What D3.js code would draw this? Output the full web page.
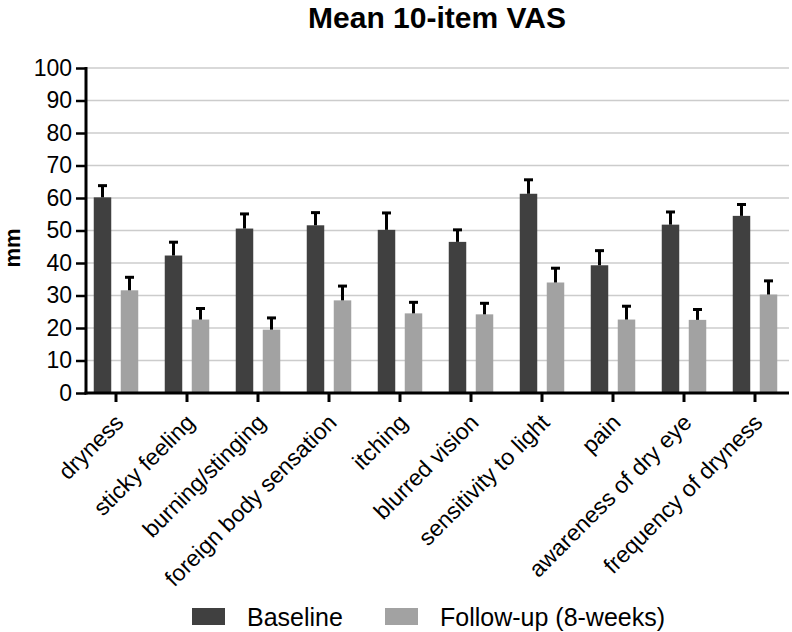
<!DOCTYPE html>
<html>
<head>
<meta charset="utf-8">
<script src="https://cdn.jsdelivr.net/npm/d3@7"></script>
<style>
  body { margin: 0; background: #fff; }
  svg { display: block; font-family: "Liberation Sans", Arial, sans-serif; }
</style>
</head>
<body>
<svg id="chart" width="792" height="632"></svg>
<script>
const categories = ["dryness", "sticky feeling", "burning/stinging", "foreign body sensation", "itching",
  "blurred vision", "sensitivity to light", "pain", "awareness of dry eye", "frequency of dryness"];
const seriesNames = ["Baseline", "Follow-up (8-weeks)"];
const baseline = [60.2, 42.3, 50.6, 51.6, 50.2, 46.5, 61.3, 39.3, 51.8, 54.5];
const baselineErr = [3.6, 4.1, 4.5, 3.9, 5.2, 3.7, 4.3, 4.5, 3.9, 3.5];
const followup = [31.6, 22.6, 19.5, 28.5, 24.5, 24.2, 34.0, 22.6, 22.5, 30.3];
const followupErr = [4.0, 3.4, 3.6, 4.4, 3.4, 3.4, 4.4, 4.1, 3.2, 4.2];
const yTicks = [0, 10, 20, 30, 40, 50, 60, 70, 80, 90, 100];
const colors = ["#404040", "#a2a2a2"];

const svg = d3.select("#chart");

const x = d3.scaleBand().domain(categories).range([80.5, 790.5]).padding(0);
const xSub = d3.scaleBand().domain([0, 1]).range([-22.25, 22.25]).paddingInner(0.352).paddingOuter(0);
const y = d3.scaleLinear().domain([0, 100]).range([393, 68]);

// gridlines
svg.append("g").selectAll("line").data(yTicks.filter(d => d > 0)).join("line")
  .attr("x1", 86).attr("x2", 789)
  .attr("y1", d => y(d)).attr("y2", d => y(d))
  .attr("stroke", "#cccccc").attr("stroke-width", 1.5);

// data
const data = categories.map((c, i) => ({
  cat: c,
  vals: [
    { s: 0, v: baseline[i], e: baselineErr[i] },
    { s: 1, v: followup[i], e: followupErr[i] }
  ]
}));

const groups = svg.append("g").selectAll("g").data(data).join("g")
  .attr("transform", d => `translate(${x(d.cat) + x.bandwidth() / 2},0)`);

groups.selectAll("rect").data(d => d.vals).join("rect")
  .attr("x", d => xSub(d.s))
  .attr("width", xSub.bandwidth())
  .attr("y", d => y(d.v))
  .attr("height", d => y(0) - y(d.v))
  .attr("fill", d => colors[d.s]);

// error bars (upper only)
groups.selectAll("line.err").data(d => d.vals).join("line")
  .attr("class", "err")
  .attr("x1", d => xSub(d.s) + xSub.bandwidth() / 2)
  .attr("x2", d => xSub(d.s) + xSub.bandwidth() / 2)
  .attr("y1", d => y(d.v))
  .attr("y2", d => y(d.v + d.e))
  .attr("stroke", "#000").attr("stroke-width", 3);
groups.selectAll("line.cap").data(d => d.vals).join("line")
  .attr("class", "cap")
  .attr("x1", d => xSub(d.s) + xSub.bandwidth() / 2 - 4.5)
  .attr("x2", d => xSub(d.s) + xSub.bandwidth() / 2 + 4.5)
  .attr("y1", d => y(d.v + d.e))
  .attr("y2", d => y(d.v + d.e))
  .attr("stroke", "#000").attr("stroke-width", 3);

// y axis
const yAxis = svg.append("g").attr("transform", "translate(86,0)")
  .call(d3.axisLeft(y).tickValues(yTicks).tickSize(10).tickPadding(4));
yAxis.select(".domain").remove();
yAxis.selectAll(".tick line").attr("stroke", "#000").attr("stroke-width", 2.5);
yAxis.selectAll(".tick text").attr("font-size", 23).attr("fill", "#000")
  .attr("font-family", "'Liberation Sans', Arial, sans-serif");
svg.append("line").attr("x1", 86).attr("x2", 86).attr("y1", y(100) - 1).attr("y2", y(0) + 1.5)
  .attr("stroke", "#000").attr("stroke-width", 3);

// x axis
const xAxis = svg.append("g").attr("transform", `translate(0,${y(0)})`)
  .call(d3.axisBottom(x).tickSize(9).tickFormat(""));
xAxis.select(".domain").remove();
xAxis.selectAll(".tick line").attr("stroke", "#000").attr("stroke-width", 3);
svg.append("line").attr("x1", 84.5).attr("x2", 789).attr("y1", y(0)).attr("y2", y(0))
  .attr("stroke", "#000").attr("stroke-width", 3);

svg.append("g").selectAll("text").data(categories).join("text")
  .attr("transform", d => `translate(${x(d) + x.bandwidth() / 2 + 9},${y(0) + 31}) rotate(-45)`)
  .attr("text-anchor", "end")
  .attr("font-size", 23)
  .attr("fill", "#000")
  .text(d => d);

// y label
svg.append("text")
  .attr("transform", "translate(20,248) rotate(-90)")
  .attr("text-anchor", "middle")
  .attr("font-size", 22).attr("font-weight", "bold")
  .text("mm");

// title
svg.append("text")
  .attr("x", 437).attr("y", 28)
  .attr("text-anchor", "middle")
  .attr("font-size", 30).attr("font-weight", "bold")
  .text("Mean 10-item VAS");

// legend
const legX = [192, 385];
const leg = svg.append("g").selectAll("g").data(seriesNames).join("g")
  .attr("transform", (d, i) => `translate(${legX[i]},608)`);
leg.append("rect").attr("width", 33).attr("height", 17).attr("fill", (d, i) => colors[i]);
leg.append("text").attr("x", 55).attr("y", 17.5).attr("font-size", 25).attr("fill", "#000").text(d => d);
</script>
</body>
</html>
